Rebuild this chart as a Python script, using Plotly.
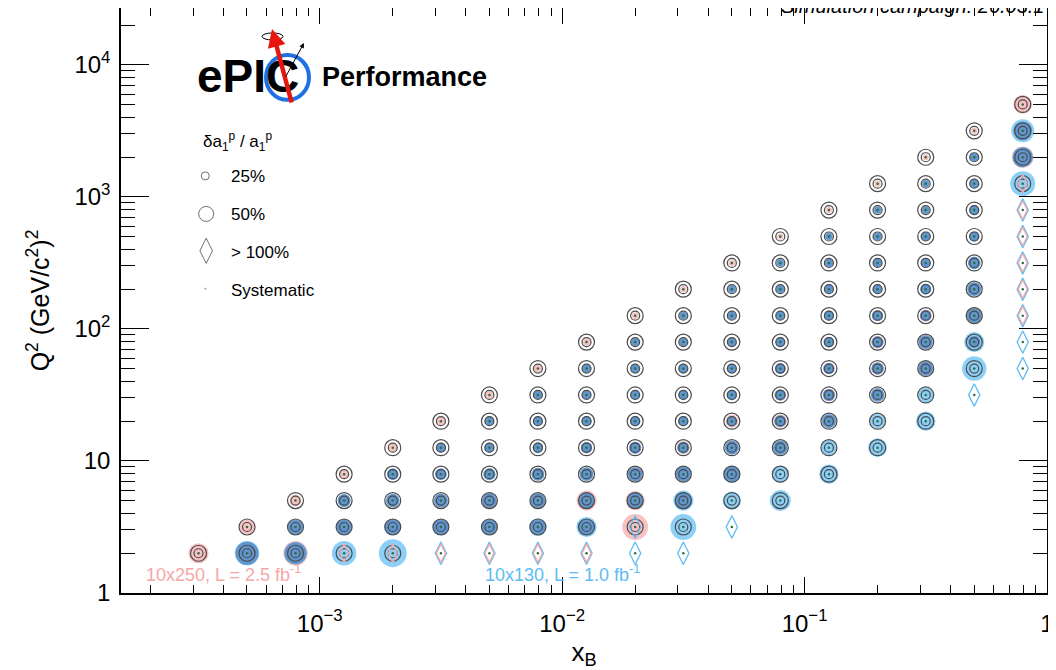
import plotly.graph_objects as go

# bin centres
x_bins = [3.16e-4, 5.01e-4, 7.94e-4, 1.26e-3, 2.00e-3, 3.16e-3, 5.01e-3, 7.94e-3,
          1.26e-2, 2.00e-2, 3.16e-2, 5.01e-2, 7.94e-2, 0.126, 0.200, 0.316, 0.501, 0.794]
q2_bins = [2.00, 3.16, 5.01, 7.94, 12.6, 20.0, 31.6, 50.1, 79.4,
           126, 200, 316, 501, 794, 1259, 1995, 3162, 5012]

# relative uncertainty da1/a1 per (Q2 row, x column); N = no bin, 2 = above 100 %
N = None
unc_10x250 = [
    [.65, .75, .80, 2, 2, 2, 2, 2, 2] + [N] * 9,
    [N, .45, .45, .48, .50, .50, .52, .45, .50, .85] + [N] * 8,
    [N, N, .35, .38, .40, .42, .45, .45, .65, .62, .55] + [N] * 7,
    [N] * 3 + [.30, .33, .33, .35, .38, .40, .47, .48, .45] + [N] * 6,
    [N] * 4 + [.25, .26, .27, .30, .34, .36, .40, .42, .43] + [N] * 5,
    [N] * 5 + [.22, .24, .25, .27, .28, .28, .38, .40, .42] + [N] * 4,
    [N] * 6 + [.20, .22, .24, .25, .26, .28, .36, .38, .40] + [N] * 3,
    [N] * 7 + [.20, .22, .23, .25, .26, .32, .34, .38, .47] + [N] * 2,
    [N] * 8 + [.18, .20, .21, .22, .25, .30, .38, .43, .36] + [N],
    [N] * 9 + [.17, .19, .20, .22, .28, .33, .36, .55, 2],
    [N] * 10 + [.16, .18, .20, .22, .25, .30, .40, 2],
    [N] * 11 + [.16, .17, .20, .22, .26, .36, 2],
    [N] * 12 + [.15, .17, .19, .22, .27, 2],
    [N] * 13 + [.15, .17, .19, .25, 2],
    [N] * 14 + [.15, .17, .22, 2],
    [N] * 15 + [.15, .20, .70],
    [N] * 16 + [.15, .60],
    [N] * 17 + [.60],
]
unc_10x130 = [
    [N, .80, .72, .80, .92, 2, 2, 2, 2, 2, 2] + [N] * 7,
    [N, N, .48, .48, .50, .50, .48, .55, .65, 2, .85, 2] + [N] * 6,
    [N, N, N, .40, .42, .42, .45, .46, .50, .52, .65, .58, .68] + [N] * 5,
    [N] * 4 + [.35, .35, .36, .38, .42, .43, .45, .55, .52, .62] + [N] * 4,
    [N] * 5 + [.28, .29, .30, .33, .36, .35, .42, .45, .47, .60] + [N] * 3,
    [N] * 6 + [.26, .27, .29, .30, .30, .30, .35, .42, .45, .62] + [N] * 2,
    [N] * 7 + [.24, .26, .27, .28, .30, .32, .36, .40, .46, 2] + [N],
    [N] * 8 + [.24, .25, .26, .28, .30, .32, .36, .44, .80, 2],
    [N] * 9 + [.22, .23, .25, .27, .31, .35, .42, .65, 2],
    [N] * 10 + [.21, .23, .25, .28, .32, .33, .45, 2],
    [N] * 11 + [.20, .23, .27, .28, .33, .44, 2],
    [N] * 12 + [.20, .24, .25, .30, .38, 2],
    [N] * 13 + [.20, .22, .28, .30, 2],
    [N] * 14 + [.20, .22, .30, 2],
    [N] * 15 + [.20, .28, .82],
    [N] * 16 + [.26, .65],
    [N] * 17 + [.75],
    [N] * 18,
]

PINK = "#f5a7a8"
BLUE = "#5dbcf3"
BOTH = "#4f83c3"
FONT = "Liberation Sans, Arial, sans-serif"


def msize(u):
    return 2 + 28 * u


pink_disk, blue_disk, both_disk = ([], [], []), ([], [], []), ([], [], [])
pink_dia, blue_dia, ref_pts, all_pts = ([], []), ([], []), ([], []), ([], [])
for j, q2 in enumerate(q2_bins):
    for k, xb in enumerate(x_bins):
        p = unc_10x250[j][k]
        b = unc_10x130[j][k]
        if p is None and b is None:
            continue
        all_pts[0].append(xb); all_pts[1].append(q2)
        if p is not None and p <= 1:
            pink_disk[0].append(xb); pink_disk[1].append(q2); pink_disk[2].append(msize(p))
        if b is not None and b <= 1:
            blue_disk[0].append(xb); blue_disk[1].append(q2); blue_disk[2].append(msize(b))
        if p is not None and b is not None and p <= 1 and b <= 1:
            both_disk[0].append(xb); both_disk[1].append(q2); both_disk[2].append(msize(min(p, b)))
        if p is not None and p > 1:
            pink_dia[0].append(xb); pink_dia[1].append(q2)
        if b is not None and b > 1:
            blue_dia[0].append(xb); blue_dia[1].append(q2)
        if (p is not None and p <= 1) or (b is not None and b <= 1):
            ref_pts[0].append(xb); ref_pts[1].append(q2)

fig = go.Figure()

for pts, col in [(pink_disk, PINK), (blue_disk, BLUE), (both_disk, BOTH)]:
    fig.add_trace(go.Scatter(x=pts[0], y=pts[1], mode="markers",
                             marker=dict(size=pts[2], color=col, line=dict(width=0))))

for ref in [0.25, 0.50]:
    fig.add_trace(go.Scatter(x=ref_pts[0], y=ref_pts[1], mode="markers",
                             marker=dict(symbol="circle-open", size=msize(ref),
                                         color="#4a4a4a", line=dict(width=1.2))))

fig.add_trace(go.Scatter(x=blue_dia[0], y=blue_dia[1], mode="markers",
                         marker=dict(symbol="diamond-tall-open", size=16, color=BLUE,
                                     line=dict(width=1.3))))
fig.add_trace(go.Scatter(x=pink_dia[0], y=pink_dia[1], mode="markers",
                         marker=dict(symbol="diamond-tall-open", size=13, color=PINK,
                                     line=dict(width=1.3))))
fig.add_trace(go.Scatter(x=all_pts[0], y=all_pts[1], mode="markers",
                         marker=dict(size=2.5, color="#2d6e3e")))

# legend glyphs on an overlay axis in plot fractions
fig.add_trace(go.Scatter(x=[0.091, 0.092, 0.092, 0.091], y=[0.713, 0.648, 0.585, 0.520],
                         xaxis="x2", yaxis="y2", mode="markers",
                         marker=dict(symbol=["circle-open", "circle-open", "diamond-tall-open", "circle"],
                                     size=[8, 15, 18, 2.5],
                                     color=["#333", "#333", "#333", "#2d6e3e"],
                                     line=dict(width=1))))

minor_x = [m * 10 ** e for e in range(-4, 0) for m in range(2, 10)]
minor_y = [m * 10 ** e for e in range(0, 5) for m in range(2, 10)]

# the page body adds an 8 px offset, so the figure is 8 px smaller than the window
fig.update_layout(
    width=1048, height=662,
    margin=dict(l=113, r=9, t=0, b=77),
    plot_bgcolor="white", paper_bgcolor="white",
    showlegend=False,
    font=dict(family=FONT, color="black"),
    xaxis=dict(
        type="log", range=[-3.82, 0.0], automargin=False,
        tickvals=[1e-3, 1e-2, 1e-1, 1],
        ticktext=["10<sup>\u22123</sup>", "10<sup>\u22122</sup>", "10<sup>\u22121</sup>", "1"],
        ticks="inside", ticklen=16, tickwidth=1, tickcolor="black",
        minor=dict(ticks="inside", ticklen=8, tickvals=minor_x, tickcolor="black", showgrid=False),
        showline=True, linewidth=1.5, linecolor="black", mirror="ticks",
        showgrid=False, zeroline=False,
        tickfont=dict(size=24), ticklabelstandoff=8,
        title=dict(text="x<sub>B</sub>", font=dict(size=26), standoff=6),
    ),
    yaxis=dict(
        type="log", range=[0.0, 4.43], automargin=False,
        tickvals=[1, 10, 100, 1000, 10000],
        ticktext=["1", "10", "10<sup>2</sup>", "10<sup>3</sup>", "10<sup>4</sup>"],
        ticks="inside", ticklen=28, tickwidth=1, tickcolor="black",
        minor=dict(ticks="inside", ticklen=14, tickvals=minor_y, tickcolor="black", showgrid=False),
        showline=True, linewidth=1.5, linecolor="black", mirror="ticks",
        showgrid=False, zeroline=False,
        tickfont=dict(size=24), ticklabelstandoff=4,
        title=dict(text="Q<sup>2</sup> (GeV/c<sup>2</sup>)<sup>2</sup>", font=dict(size=25), standoff=18),
    ),
    xaxis2=dict(range=[0, 1], overlaying="x", visible=False, anchor="y2"),
    yaxis2=dict(range=[0, 1], overlaying="y", visible=False, anchor="x2"),
)

# ePIC logo
fig.add_shape(type="circle", xref="paper", yref="paper",
              x0=(266 - 121) / 926, x1=(309 - 121) / 926,
              y0=(593 - 99) / 586, y1=(593 - 54) / 586,
              line=dict(color="#1f6fe5", width=4))
fig.add_shape(type="circle", xref="paper", yref="paper",
              x0=(262 - 121) / 926, x1=(283 - 121) / 926,
              y0=(593 - 39) / 586, y1=(593 - 32) / 586,
              line=dict(color="black", width=1))

annotations = [
    dict(x=(195 - 121) / 926, y=(593 - 75) / 586, text="<b>ePIC</b>", xanchor="left",
         font=dict(size=46, family=FONT)),
    dict(x=(320 - 121) / 926, y=(593 - 76) / 586, text="<b>Performance</b>", xanchor="left",
         font=dict(size=27, family=FONT)),
    dict(x=(272 - 121) / 926, y=(593 - 28) / 586, text="", showarrow=True, ax=20, ay=75,
         arrowcolor="#e8150f", arrowwidth=4.5, arrowhead=2, arrowsize=0.8),
    dict(x=(304 - 121) / 926, y=(593 - 42) / 586, text="", showarrow=True, ax=-19, ay=35,
         arrowcolor="black", arrowwidth=1, arrowhead=2, arrowsize=1),
    dict(x=(201 - 121) / 926, y=(593 - 141) / 586,
         text="\u03b4a<sub>1</sub><sup>p</sup> / a<sub>1</sub><sup>p</sup>", xanchor="left",
         font=dict(size=17)),
    dict(x=(229 - 121) / 926, y=(593 - 176) / 586, text="25%", xanchor="left", font=dict(size=17)),
    dict(x=(229 - 121) / 926, y=(593 - 214) / 586, text="50%", xanchor="left", font=dict(size=17)),
    dict(x=(229 - 121) / 926, y=(593 - 252) / 586, text="> 100%", xanchor="left", font=dict(size=17)),
    dict(x=(229 - 121) / 926, y=(593 - 290) / 586, text="Systematic", xanchor="left", font=dict(size=17)),
    dict(x=(144 - 121) / 926, y=(593 - 573) / 586, text="10x250, L = 2.5 fb<sup>-1</sup>",
         xanchor="left", font=dict(size=18, color=PINK)),
    dict(x=(483 - 121) / 926, y=(593 - 573) / 586, text="10x130, L = 1.0 fb<sup>-1</sup>",
         xanchor="left", font=dict(size=18, color=BLUE)),
    dict(x=1.0, y=1.0, text="<i>Simulation campaign: 26.03.1</i>", xanchor="right",
         yanchor="bottom", yshift=-11, font=dict(size=20)),
]
for a in annotations:
    a.setdefault("xref", "paper")
    a.setdefault("yref", "paper")
    a.setdefault("yanchor", "middle")
    a.setdefault("showarrow", False)
    fig.add_annotation(**a)

fig.write_html("out.html")
